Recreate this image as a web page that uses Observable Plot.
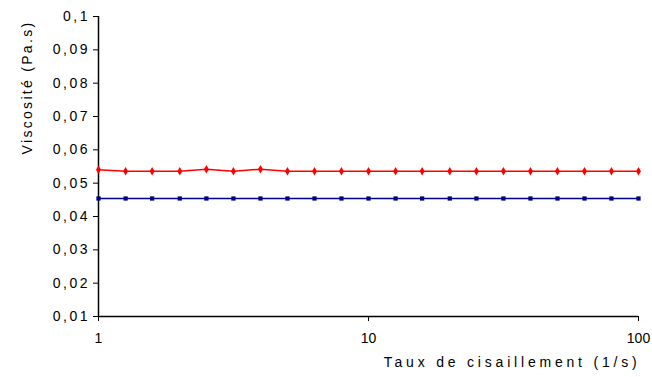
<!DOCTYPE html>
<html>
<head>
<meta charset="utf-8">
<script src="https://cdn.jsdelivr.net/npm/d3@7"></script>
<script src="https://cdn.jsdelivr.net/npm/@observablehq/plot@0.6"></script>
<style>
  html, body { margin: 0; padding: 0; background: #fff; }
  #chart svg { display: block; }
  #chart svg text { letter-spacing: 2.5px; font-size: 14px; }
  #chart svg g[aria-label="x-axis tick label"] text { letter-spacing: 0px; }
  #chart svg g.ylab text { letter-spacing: 2.3px; }
  #chart svg g.xlab text { letter-spacing: 3.8px; }
</style>
</head>
<body>
<div id="chart"></div>
<script>
// Shear rate (1/s)
const shearRate = [1, 1.26, 1.58, 2, 2.51, 3.16, 3.98, 5.01, 6.31, 7.94, 10,
                   12.6, 15.8, 20, 25.1, 31.6, 39.8, 50.1, 63.1, 79.4, 100];
// Viscosity series (Pa.s)
const redViscosity = [0.0540, 0.0536, 0.0536, 0.0536, 0.0542, 0.0536, 0.0542, 0.0536, 0.0536, 0.0536, 0.0536,
                      0.0536, 0.0536, 0.0536, 0.0536, 0.0536, 0.0536, 0.0536, 0.0536, 0.0536, 0.0536];
const blueViscosity = [0.0454, 0.0454, 0.0454, 0.0454, 0.0454, 0.0454, 0.0454, 0.0454, 0.0454, 0.0454, 0.0454,
                       0.0454, 0.0454, 0.0454, 0.0454, 0.0454, 0.0454, 0.0454, 0.0454, 0.0454, 0.0454];
// Axis ticks
const yTickValues = [0.01, 0.02, 0.03, 0.04, 0.05, 0.06, 0.07, 0.08, 0.09, 0.1];
const yTickLabels = ["0,01", "0,02", "0,03", "0,04", "0,05", "0,06", "0,07", "0,08", "0,09", "0,1"];
const xTickValues = [1, 10, 100];
const xTickLabels = ["1", "10", "100"];
const yLabel = "Viscosité (Pa.s)";
const xLabel = "Taux de cisaillement (1/s)";

const red = shearRate.map((x, i) => ({x, y: redViscosity[i]}));
const blue = shearRate.map((x, i) => ({x, y: blueViscosity[i]}));

const chart = Plot.plot({
  width: 652,
  height: 377,
  marginLeft: 98,
  marginRight: 14,
  marginTop: 16,
  marginBottom: 61,
  style: "font-family: Arial, 'Liberation Sans', sans-serif; font-size: 14px; color: #000; background: #fff;",
  x: {type: "log", domain: [1, 100]},
  y: {domain: [0.01, 0.1]},
  marks: [
    Plot.axisY({
      ticks: yTickValues,
      tickFormat: (d) => yTickLabels[yTickValues.indexOf(d)],
      tickSize: 5,
      tickPadding: 3.5,
      label: null,
      stroke: "#000",
      fontSize: 14
    }),
    Plot.axisX({
      ticks: xTickValues,
      tickFormat: (d) => xTickLabels[xTickValues.indexOf(d)],
      tickSize: 5,
      tickPadding: 12,
      label: null,
      stroke: "#000",
      fontSize: 14
    }),
    Plot.ruleX([1], {stroke: "#000", strokeWidth: 1.5}),
    Plot.ruleY([0.01], {stroke: "#000", strokeWidth: 1.5}),
    Plot.line(red, {x: "x", y: "y", stroke: "#ff0000", strokeWidth: 1.5}),
    Plot.dot(red, {x: "x", y: "y", symbol: "diamond", r: 2.6, fill: "#ff0000", stroke: "none"}),
    Plot.line(blue, {x: "x", y: "y", stroke: "#000080", strokeWidth: 1.5}),
    Plot.dot(blue, {x: "x", y: "y", symbol: "square", r: 2.4, fill: "#000080", stroke: "none"}),
    Plot.text([yLabel], {
      frameAnchor: "top-left", textAnchor: "middle", rotate: -90, dx: -76, dy: 71,
      fontSize: 14, fill: "#000", className: "ylab"
    }),
    Plot.text([xLabel], {
      frameAnchor: "bottom-right", textAnchor: "end", dx: 2, dy: 50,
      fontSize: 14, fill: "#000", className: "xlab"
    })
  ]
});
document.getElementById("chart").appendChild(chart);
</script>
</body>
</html>
